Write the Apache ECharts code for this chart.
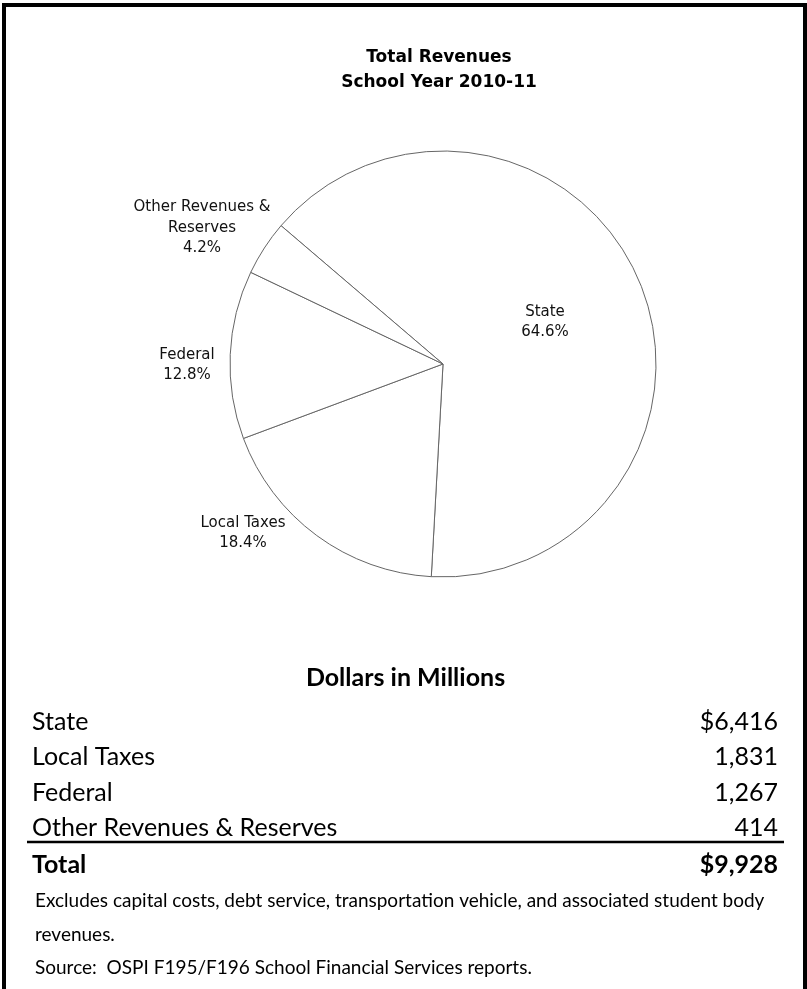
<!DOCTYPE html>
<html><head><meta charset="utf-8">
<script src="https://cdn.jsdelivr.net/npm/echarts@6/dist/echarts.min.js"></script>
<style>html,body{margin:0;padding:0;background:#fff}#c{width:807px;height:989px}</style>
</head><body><div id="c"></div>
<script>
// ---- data ----
const titleLines = ['Total Revenues', 'School Year 2010-11'];
const categories = ['State', 'Local Taxes', 'Federal', 'Other Revenues & Reserves'];
const pieLabelNames = ['State', 'Local Taxes', 'Federal', 'Other Revenues &\nReserves'];
const dollars = [6416, 1831, 1267, 414];
const tableHeading = 'Dollars in Millions';
const totalName = 'Total';
const notes = [
  'Excludes capital costs, debt service, transportation vehicle, and associated student body',
  'revenues.',
  'Source:  OSPI F195/F196 School Financial Services reports.'
];

// ---- layout / style ----
const labelPos = [[545, 322], [243, 533], [187, 365], [202, 228]];
const tableFont = 'Lato, "Open Sans", sans-serif';
const tableSize = 25;
const tableLeft = 32, tableRight = 778, lineLeft = 27, lineRight = 784;
const rowY0 = 722, rowStep = 35.3;
const totalY = 865, noteY = [901, 935, 968];

function fmt(v, dollar) { return (dollar ? '$' : '') + v.toLocaleString('en-US'); }
const total = dollars.reduce((a, b) => a + b, 0);

const chart = echarts.init(document.getElementById('c'), null, {renderer: 'canvas'});
const g = [];
// border
g.push({type: 'line', shape: {x1: 2, y1: 5, x2: 807, y2: 5}, style: {stroke: '#000', lineWidth: 4}});
g.push({type: 'line', shape: {x1: 4, y1: 3, x2: 4, y2: 989}, style: {stroke: '#000', lineWidth: 4}});
g.push({type: 'line', shape: {x1: 805, y1: 3, x2: 805, y2: 989}, style: {stroke: '#000', lineWidth: 4}});
// title
titleLines.forEach((t, i) => g.push({type: 'text', x: 439, y: 58 + i * 25,
  style: {text: t, fontFamily: '"DejaVu Sans", Verdana, sans-serif', fontWeight: 'bold', fontSize: 17,
    fill: '#000', textAlign: 'center', textVerticalAlign: 'middle'}}));
// table heading
g.push({type: 'text', x: (lineLeft + lineRight) / 2, y: 678,
  style: {text: tableHeading, fontFamily: tableFont, fontWeight: 'bold', fontSize: tableSize,
    fill: '#000', textAlign: 'center', textVerticalAlign: 'middle'}});
categories.forEach((c, i) => {
  const y = rowY0 + i * rowStep;
  g.push({type: 'text', x: tableLeft, y: y, style: {text: c, fontFamily: tableFont, fontSize: tableSize,
    fill: '#000', textAlign: 'left', textVerticalAlign: 'middle'}});
  g.push({type: 'text', x: tableRight, y: y, style: {text: fmt(dollars[i], i === 0), fontFamily: tableFont,
    fontSize: tableSize, fill: '#000', textAlign: 'right', textVerticalAlign: 'middle'}});
});
g.push({type: 'line', shape: {x1: lineLeft, y1: 842, x2: lineRight, y2: 842}, style: {stroke: '#000', lineWidth: 2.5}});
g.push({type: 'text', x: tableLeft, y: totalY, style: {text: totalName, fontFamily: tableFont, fontWeight: 'bold',
  fontSize: tableSize, fill: '#000', textAlign: 'left', textVerticalAlign: 'middle'}});
g.push({type: 'text', x: tableRight, y: totalY, style: {text: fmt(total, true), fontFamily: tableFont, fontWeight: 'bold',
  fontSize: tableSize, fill: '#000', textAlign: 'right', textVerticalAlign: 'middle'}});
notes.forEach((n, i) => g.push({type: 'text', x: tableLeft + 3, y: noteY[i], style: {text: n, fontFamily: tableFont,
  fontSize: 19, fill: '#000', textAlign: 'left', textVerticalAlign: 'middle'}}));

chart.setOption({
  animation: false,
  backgroundColor: '#fff',
  graphic: g,
  series: [{
    type: 'pie',
    center: [443, 364],
    radius: 213,
    startAngle: 139.5,
    clockwise: true,
    percentPrecision: 1,
    silent: true,
    itemStyle: {color: '#fff', borderColor: '#666', borderWidth: 1},
    label: {
      show: true, position: 'inside',
      formatter: p => pieLabelNames[p.dataIndex] + '\n' + p.percent.toFixed(1) + '%',
      fontFamily: '"DejaVu Sans", Tahoma, sans-serif', fontSize: 15, lineHeight: 20.5, color: '#111',
      align: 'center'
    },
    labelLine: {show: false},
    labelLayout: p => ({x: labelPos[p.dataIndex][0], y: labelPos[p.dataIndex][1], align: 'center', verticalAlign: 'middle'}),
    emphasis: {disabled: true},
    data: categories.map((c, i) => ({name: c, value: dollars[i]}))
  }]
});
</script>
</body></html>
